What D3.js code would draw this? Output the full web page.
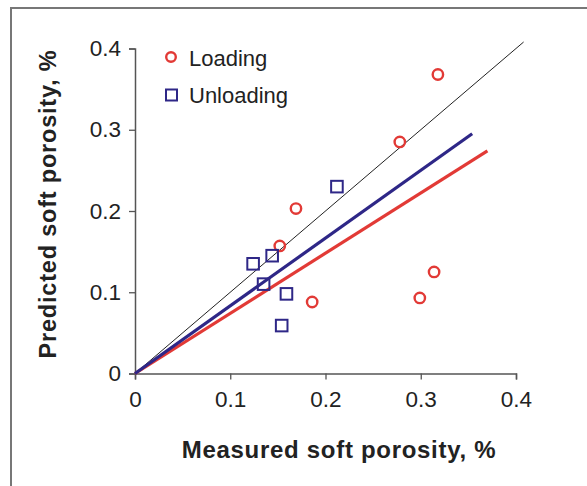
<!DOCTYPE html>
<html><head><meta charset="utf-8">
<script src="https://cdn.jsdelivr.net/npm/d3@7"></script>
<style>body{margin:0;background:#fff;}svg{display:block;font-family:Arial,"Liberation Sans",sans-serif;}</style>
</head><body>
<svg id="c" width="587" height="486"></svg>
<script>
const xTicks = [0, 0.1, 0.2, 0.3, 0.4];
const yTicks = [0, 0.1, 0.2, 0.3, 0.4];
const loadingX = [0.318, 0.278, 0.169, 0.152, 0.314, 0.299, 0.186];
const loadingY = [0.368, 0.285, 0.203, 0.157, 0.125, 0.093, 0.088];
const unloadingX = [0.212, 0.144, 0.124, 0.135, 0.159, 0.154];
const unloadingY = [0.230, 0.145, 0.135, 0.110, 0.098, 0.059];
const oneToOne = [[0, 0], [0.408, 0.408]];
const loadingFit = [[0, 0], [0.37, 0.274]];
const unloadingFit = [[0, 0], [0.354, 0.295]];
const seriesNames = ["Loading", "Unloading"];

const red = "#e23a36", navy = "#2e2787";
const svg = d3.select("#c");
svg.append("rect").attr("x", 11).attr("y", 8).attr("width", 600).attr("height", 500)
  .attr("fill", "none").attr("stroke", "#777").attr("stroke-width", 2);

const x = d3.scaleLinear().domain([0, 0.4]).range([135, 516]);
const y = d3.scaleLinear().domain([0, 0.4]).range([373.5, 48.5]);

const fmt = d => d === 0 ? "0" : d3.format(".1f")(d);
const xa = svg.append("g").attr("transform", "translate(0,373.5)")
  .call(d3.axisBottom(x).tickValues(xTicks).tickFormat(fmt).tickSize(6).tickPadding(12));
const ya = svg.append("g").attr("transform", "translate(135,0)")
  .call(d3.axisLeft(y).tickValues(yTicks).tickFormat(fmt).tickSize(6).tickPadding(8));
[xa, ya].forEach(g => {
  g.select(".domain").attr("stroke", "#555").attr("stroke-width", 1.5);
  g.selectAll(".tick line").attr("stroke", "#555").attr("stroke-width", 1.3);
  g.selectAll("text").attr("font-size", 22.5).attr("fill", "#222").attr("font-family", "Arial, 'Liberation Sans', sans-serif");
});

const line = d3.line().x(d => x(d[0])).y(d => y(d[1]));
svg.append("path").attr("d", line(oneToOne)).attr("stroke", "#222").attr("stroke-width", 1).attr("fill", "none");
svg.append("path").attr("d", line(loadingFit)).attr("stroke", red).attr("stroke-width", 3.2).attr("fill", "none");
svg.append("path").attr("d", line(unloadingFit)).attr("stroke", navy).attr("stroke-width", 3.2).attr("fill", "none");

const L = loadingX.map((v, i) => [v, loadingY[i]]);
const U = unloadingX.map((v, i) => [v, unloadingY[i]]);
svg.selectAll("circle.l").data(L).join("circle").attr("class", "l")
  .attr("cx", d => x(d[0])).attr("cy", d => y(d[1])).attr("r", 5.2)
  .attr("fill", "none").attr("stroke", red).attr("stroke-width", 2.4);
svg.selectAll("rect.u").data(U).join("rect").attr("class", "u")
  .attr("x", d => x(d[0]) - 5.8).attr("y", d => y(d[1]) - 5.8).attr("width", 11.6).attr("height", 11.6)
  .attr("fill", "none").attr("stroke", navy).attr("stroke-width", 2);

// legend
const lg = svg.append("g");
lg.append("circle").attr("cx", 171).attr("cy", 57).attr("r", 4.8).attr("fill", "none").attr("stroke", red).attr("stroke-width", 2.4);
lg.append("rect").attr("x", 166).attr("y", 89.5).attr("width", 11).attr("height", 11).attr("fill", "none").attr("stroke", navy).attr("stroke-width", 2);
lg.append("text").attr("x", 189).attr("y", 65.5).attr("font-size", 22).attr("fill", "#222").text(seriesNames[0]);
lg.append("text").attr("x", 189).attr("y", 103).attr("font-size", 22).attr("fill", "#222").text(seriesNames[1]);

svg.append("text").attr("x", 339).attr("y", 458).attr("text-anchor", "middle")
  .attr("font-size", 24).attr("font-weight", "bold").attr("letter-spacing", 0.7).attr("fill", "#222")
  .text("Measured soft porosity, %");
svg.append("text").attr("transform", "translate(56,204) rotate(-90)").attr("text-anchor", "middle")
  .attr("font-size", 23.5).attr("font-weight", "bold").attr("letter-spacing", 0.8).attr("fill", "#222")
  .text("Predicted soft porosity, %");
</script>
</body></html>
